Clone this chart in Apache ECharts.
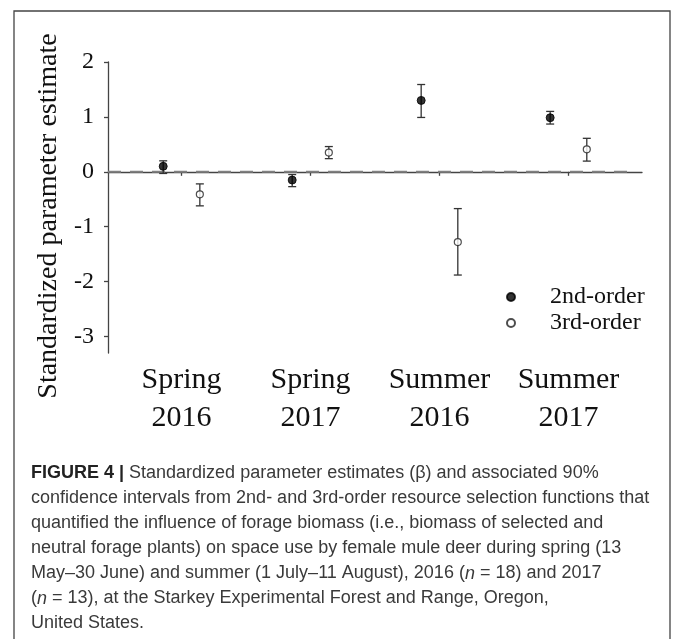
<!DOCTYPE html>
<html>
<head>
<meta charset="utf-8">
<script src="https://cdn.jsdelivr.net/npm/echarts@6/dist/echarts.min.js"></script>
<style>
html,body{margin:0;padding:0;background:#fff;}
#c{width:673px;height:639px;}
</style>
</head>
<body>
<div id="c"></div>
<script>
// ---- data ----
var categories = ['Spring\n2016', 'Spring\n2017', 'Summer\n2016', 'Summer\n2017'];
var est2 = [0.10, -0.15, 1.30, 0.985];
var lo2  = [-0.03, -0.27, 0.99, 0.87];
var hi2  = [0.20, -0.05, 1.59, 1.10];
var est3 = [-0.41, 0.35, -1.28, 0.41];
var lo3  = [-0.62, 0.24, -1.88, 0.195];
var hi3  = [-0.22, 0.46, -0.67, 0.61];
var yTicks = [-3, -2, -1, 0, 1, 2];
var zeroLine = [[0.43, 0], [4.5, 0]];
var seriesNames = ['2nd-order', '3rd-order'];
var yTitle = 'Standardized parameter estimate';

var OFF = 0.142;
var serif = '"Liberation Serif","Times New Roman",serif';
var sans = '"Liberation Sans",Arial,sans-serif';

function pts(est, shift) {
  return est.map(function (v, i) { return [i + 1 + shift, v]; });
}
function bars(lo, hi, shift) {
  return lo.map(function (v, i) { return [i + 1 + shift, v, hi[i]]; });
}

function errRender(params, api) {
  var x = api.value(0);
  var p1 = api.coord([x, api.value(1)]);
  var p2 = api.coord([x, api.value(2)]);
  var hw = 4;
  var st = { stroke: '#333', lineWidth: 1.3 };
  return {
    type: 'group',
    children: [
      { type: 'line', shape: { x1: p1[0], y1: p1[1], x2: p2[0], y2: p2[1] }, style: st },
      { type: 'line', shape: { x1: p1[0] - hw, y1: p1[1], x2: p1[0] + hw, y2: p1[1] }, style: st },
      { type: 'line', shape: { x1: p2[0] - hw, y1: p2[1], x2: p2[0] + hw, y2: p2[1] }, style: st }
    ]
  };
}

var captionText =
  '{b|FIGURE 4 |} Standardized parameter estimates (β) and associated 90%\n' +
  'confidence intervals from 2nd- and 3rd-order resource selection functions that\n' +
  'quantified the influence of forage biomass (i.e., biomass of selected and\n' +
  'neutral forage plants) on space use by female mule deer during spring (13\n' +
  'May–30 June) and summer (1 July–11 August), 2016 ({i|n} = 18) and 2017\n' +
  '({i|n} = 13), at the Starkey Experimental Forest and Range, Oregon,\n' +
  'United States.';

var chart = echarts.init(document.getElementById('c'), null, { renderer: 'canvas' });
chart.setOption({
  animation: false,
  backgroundColor: '#fff',
  grid: { left: 108, top: 62, right: 31, bottom: 286 },
  xAxis: {
    type: 'value',
    min: 0.43, max: 4.57,
    splitLine: { show: false },
    axisLine: { lineStyle: { color: '#444', width: 1.3 } },
    axisTick: { show: true, length: 4, customValues: [1, 2, 3, 4], lineStyle: { color: '#444', width: 1.3 } },
    axisLabel: {
      customValues: [1, 2, 3, 4],
      formatter: function (v) { return categories[Math.round(v) - 1] || ''; },
      fontFamily: serif, fontSize: 30, color: '#111', lineHeight: 38, margin: 8
    }
  },
  yAxis: {
    type: 'value',
    min: -3.3, max: 2,
    splitLine: { show: false },
    axisLine: { show: true, lineStyle: { color: '#444', width: 1.3 } },
    axisTick: { show: true, length: 4, customValues: yTicks, lineStyle: { color: '#444', width: 1.3 } },
    axisLabel: {
      customValues: yTicks,
      formatter: function (v) { return String(v); },
      fontFamily: serif, fontSize: 24, color: '#111', margin: 14
    }
  },
  legend: {
    orient: 'vertical',
    left: 501, top: 280,
    itemWidth: 8, itemHeight: 8, itemGap: 2,
    icon: 'circle',
    textStyle: { fontFamily: serif, fontSize: 24, color: '#111', padding: [0, 0, 0, 30], lineHeight: 24 },
    data: seriesNames
  },
  graphic: [
    { type: 'rect', shape: { x: 14, y: 11, width: 656, height: 640 },
      style: { fill: 'none', stroke: '#444', lineWidth: 1.3 }, z: 100 },
    { type: 'text', x: 49, y: 216, rotation: Math.PI / 2,
      style: { text: yTitle, fontFamily: serif, fontSize: 28, fill: '#111',
               textAlign: 'center', textVerticalAlign: 'middle' } },
    { type: 'text', left: 31, top: 461,
      style: {
        text: captionText,
        fontFamily: sans, fontSize: 18, fill: '#3a3a3a', lineHeight: 25,
        rich: {
          b: { fontFamily: sans, fontSize: 18, fontWeight: 'bold', fill: '#222', lineHeight: 25 },
          i: { fontFamily: sans, fontSize: 18, fontStyle: 'italic', fill: '#3a3a3a', lineHeight: 25 }
        }
      }
    }
  ],
  series: [
    {
      type: 'line', name: 'zero', data: zeroLine, symbol: 'none', silent: true, z: 1,
      lineStyle: { type: [13, 9], color: '#808080', width: 2 }
    },
    {
      type: 'custom', name: 'err2', renderItem: errRender, data: bars(lo2, hi2, -OFF),
      encode: { x: 0, y: [1, 2] }, z: 2, silent: true
    },
    {
      type: 'custom', name: 'err3', renderItem: errRender, data: bars(lo3, hi3, OFF),
      encode: { x: 0, y: [1, 2] }, z: 2, silent: true
    },
    {
      type: 'scatter', name: seriesNames[0], data: pts(est2, -OFF),
      symbol: 'circle', symbolSize: 8, z: 5,
      itemStyle: { color: '#000', borderColor: '#000', borderWidth: 1 }
    },
    {
      type: 'scatter', name: seriesNames[1], data: pts(est3, OFF),
      symbol: 'circle', symbolSize: 7, z: 5,
      itemStyle: { color: '#fff', borderColor: '#222', borderWidth: 1.2 }
    }
  ]
});
</script>
</body>
</html>
